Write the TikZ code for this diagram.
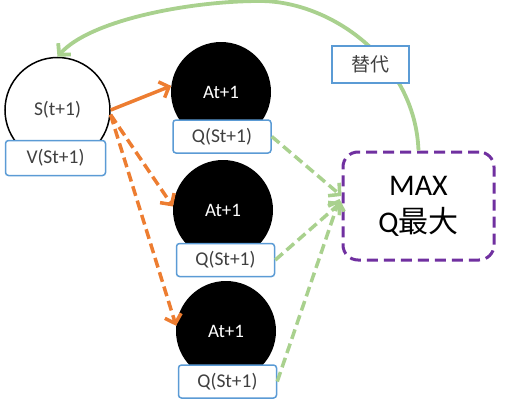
\documentclass[tikz,border=0pt]{standalone}
\usepackage{fontspec}
\setmainfont{Carlito}
\newfontfamily\cjk{Noto Sans CJK SC}
\usetikzlibrary{arrows.meta}
\definecolor{orng}{HTML}{ED7D31}
\definecolor{grn}{HTML}{A9D18E}
\definecolor{purp}{HTML}{7030A0}
\definecolor{bbl}{HTML}{5B9BD5}
\definecolor{txt}{HTML}{404040}
\begin{document}
\begin{tikzpicture}[x=1pt,y=-1pt,
  lbl/.style={draw=bbl, line width=1.5pt, fill=white, rounded corners=3pt,
    minimum width=98pt, minimum height=33pt, inner sep=0pt, text=txt,
    font=\fontsize{19.5}{19.5}\selectfont},
  act/.style={circle, fill=black, minimum size=100pt, inner sep=0pt,
    text=white, font=\fontsize{19}{19}\selectfont},
  tip/.style={-{Straight Barb[length=8pt,width=17pt]}},
  oarr/.style={tip, draw=orng, line width=3.5pt},
  odash/.style={oarr, dash pattern=on 10pt off 5pt},
  gdash/.style={tip, draw=grn, line width=3.5pt, dash pattern=on 10pt off 5pt},
  garr/.style={tip, draw=grn, line width=3.8pt}
]
\path[use as bounding box] (0,0) rectangle (520,415);

% nodes
\node[circle, draw=black, line width=1.5pt, fill=white, minimum size=105pt,
  inner sep=0pt, text=txt, font=\fontsize{19.5}{19.5}\selectfont] (S) at (57.5,110) {S(t+1)};
\node[lbl, minimum width=100pt, minimum height=35pt] (V) at (55.5,158) {V(St+1)};

\node[act] (A1) at (221,92) {At+1};
\node[lbl] (Q1) at (222,136.5) {Q(St+1)};
\node[act] (A2) at (223,210) {At+1};
\node[lbl] (Q2) at (225.5,260) {Q(St+1)};
\node[act] (A3) at (226,331) {At+1};
\node[lbl] (Q3) at (227.5,381.5) {Q(St+1)};

\node[draw=purp, line width=3pt, dash pattern=on 11pt off 6pt, rounded corners=15pt,
  minimum width=151pt, minimum height=108pt, align=center, inner sep=0pt,
  font=\fontsize{30}{37}\selectfont] (M) at (418.5,206) {MAX\\Q{\cjk 最大}};

% green feedback curve
\draw[garr] (M.north) .. controls (415,60) and (330,1) .. (260,1)
  .. controls (190,1) and (90,20) .. (S.north);
\node[draw=bbl, line width=1.5pt, fill=white, minimum width=77pt, minimum height=37pt,
  inner sep=0pt, text=txt, font=\cjk\fontsize{19}{19}\selectfont] (R) at (370.5,64.5) {替代};

% orange arrows
\draw[oarr] (S.east) -- (A1.173);
\draw[odash] (S.-5) -- (A2.176);
\draw[odash] (S.-5) -- (A3.174);

% green dashed arrows
\draw[gdash] (Q1.east) -- ([yshift=10pt]M.west);
\draw[gdash] (Q2.east) -- ([yshift=4pt]M.west);
\draw[gdash] (Q3.east) -- ([yshift=7pt,xshift=-2pt]M.west);
\end{tikzpicture}
\end{document}
